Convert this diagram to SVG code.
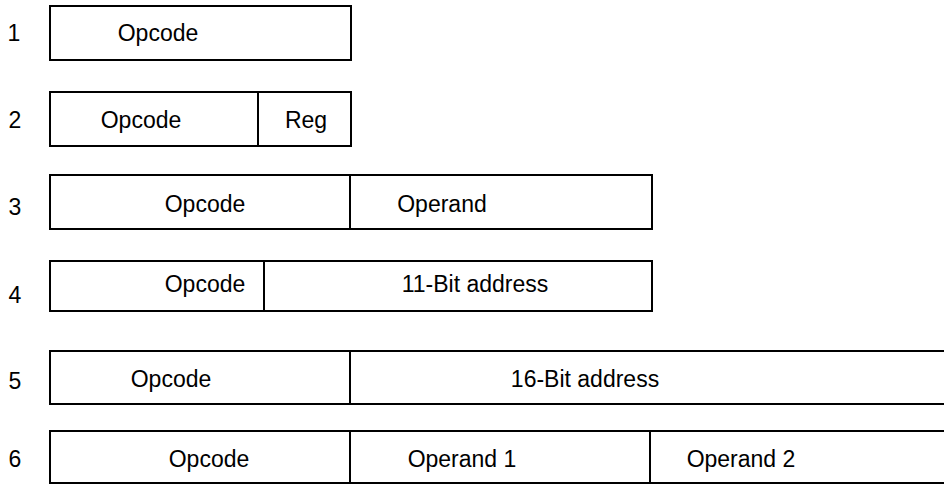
<svg xmlns="http://www.w3.org/2000/svg" width="944" height="484" viewBox="0 0 944 484">
<style>
.b{fill:#fff;stroke:#000;stroke-width:2}
.d{stroke:#000;stroke-width:2}
text{font-family:"Liberation Sans",Arial,sans-serif;font-size:23px;fill:#000;text-anchor:middle}
</style>
<rect width="944" height="484" fill="#fff"/>
<g id="row1">
<text x="14" y="41">1</text>
<rect class="b" x="50" y="6" width="301" height="54"/>
<text x="158" y="41">Opcode</text>
</g>
<g id="row2">
<text x="15" y="128">2</text>
<rect class="b" x="50" y="92" width="301" height="54"/>
<line class="d" x1="258" y1="92" x2="258" y2="146"/>
<text x="141" y="128">Opcode</text>
<text x="306" y="128">Reg</text>
</g>
<g id="row3">
<text x="15" y="215">3</text>
<rect class="b" x="50" y="175" width="602" height="54"/>
<line class="d" x1="350" y1="175" x2="350" y2="229"/>
<text x="205" y="212">Opcode</text>
<text x="442" y="212">Operand</text>
</g>
<g id="row4">
<text x="15" y="303">4</text>
<rect class="b" x="50" y="261" width="602" height="50"/>
<line class="d" x1="264" y1="261" x2="264" y2="311"/>
<text x="205" y="292">Opcode</text>
<text x="475" y="292">11-Bit address</text>
</g>
<g id="row5">
<text x="15" y="389">5</text>
<rect class="b" x="50" y="351" width="910" height="53"/>
<line class="d" x1="350" y1="351" x2="350" y2="404"/>
<text x="171" y="387">Opcode</text>
<text x="585" y="387">16-Bit address</text>
</g>
<g id="row6">
<text x="15" y="467">6</text>
<rect class="b" x="50" y="431" width="910" height="52"/>
<line class="d" x1="350" y1="431" x2="350" y2="483"/>
<line class="d" x1="650" y1="431" x2="650" y2="483"/>
<text x="209" y="467">Opcode</text>
<text x="462" y="467">Operand 1</text>
<text x="741" y="467">Operand 2</text>
</g>
<g id="connectors"/>
</svg>
